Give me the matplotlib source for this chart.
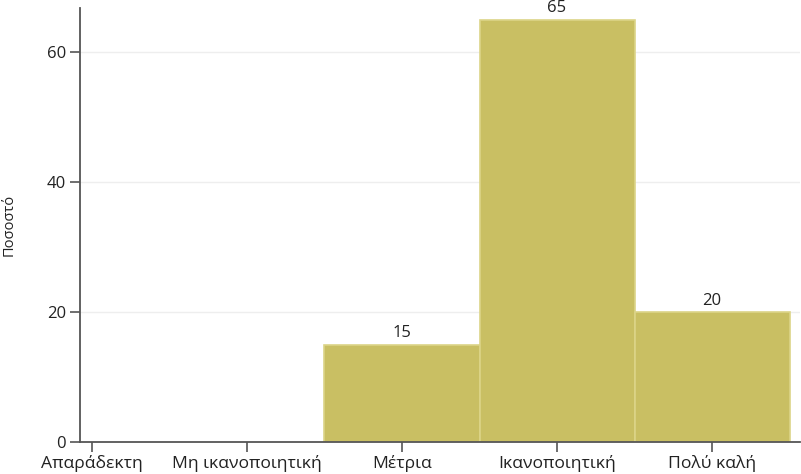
import matplotlib.pyplot as plt

categories = ['Απαράδεκτη', 'Μη ικανοποιητική', 'Μέτρια', 'Ικανοποιητική', 'Πολύ καλή']
values = [0, 0, 15, 65, 20]
yticks = [0, 20, 40, 60]

plt.rcParams['font.family'] = ['Open Sans', 'DejaVu Sans']

fig = plt.figure(figsize=(8.01, 4.74), dpi=100)
ax = fig.add_axes([0.0999, 0.0675, 0.899, 0.9155])

x = list(range(1, len(categories) + 1))
ax.set_axisbelow(True)
for xi, v in zip(x, values):
    if v > 0:
        ax.bar(xi, v, width=1.0, color='#C9BF63', edgecolor='#DCD488', linewidth=1.2)
        ax.annotate(str(v), (xi, v), xytext=(0, 2.5), textcoords='offset points',
                    ha='center', va='bottom', fontsize=12, color='#222222')

ax.set_xlim(0.923, 5.568)
ax.set_ylim(0, 66.8)
ax.set_xticks(x)
ax.set_xticklabels(categories, fontsize=12.6, color='#222222')
ax.set_yticks(yticks)
ax.set_yticklabels([str(t) for t in yticks], fontsize=12, color='#222222')
ax.set_ylabel('Ποσοστό', fontsize=10.5, color='#222222', labelpad=22)

ax.yaxis.grid(True, color='#EEEEEE', linewidth=1)
for s in ['top', 'right']:
    ax.spines[s].set_visible(False)
for s in ['left', 'bottom']:
    ax.spines[s].set_color('#555555')
    ax.spines[s].set_linewidth(1.3)
ax.tick_params(axis='both', colors='#555555', length=7, width=1.2, labelcolor='#222222')
ax.tick_params(axis='x', pad=2.5)
ax.tick_params(axis='y', pad=3)

fig.savefig('out.png', dpi=100)
